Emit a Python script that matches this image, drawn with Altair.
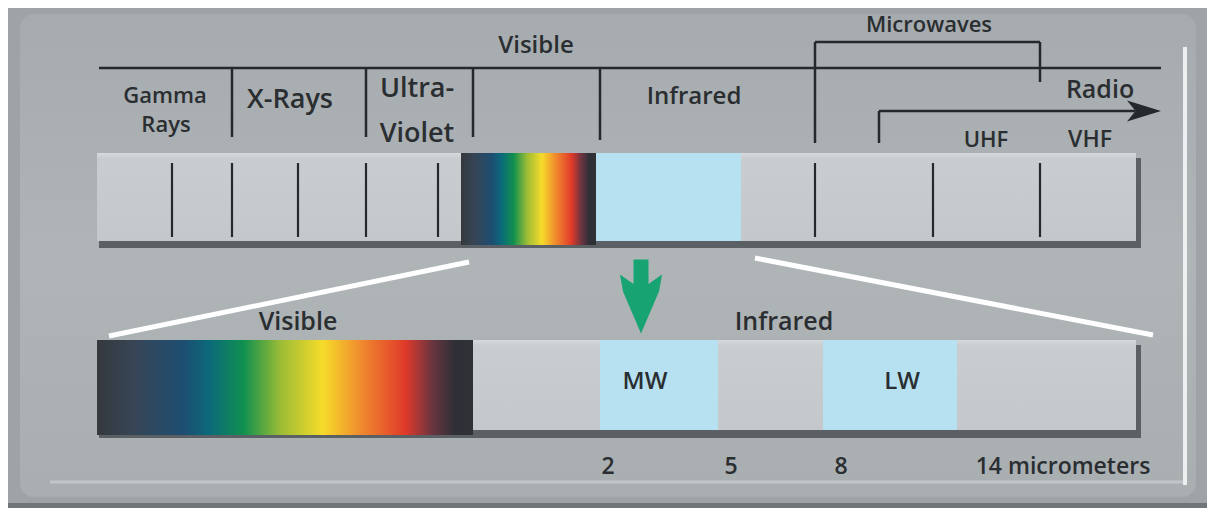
import altair as alt
import pandas as pd

# ---- diagram coordinate system (reference pixel units) ----
X_DOMAIN = [8, 1207]
Y_DOMAIN = [8, 508]
xs = alt.Scale(domain=X_DOMAIN, nice=False, zero=False)
ys = alt.Scale(domain=Y_DOMAIN, nice=False, zero=False, reverse=True)

# ---- data ----
panel_x1 = [8, 8]
panel_x2 = [1207, 1207]
panel_y1 = [8, 503]
panel_y2 = [508, 508]
panel_fill = ["#9ea3a7", "#70757a"]

inner_x1, inner_x2, inner_y1, inner_y2 = [20], [1196], [14], [497]

shadow_x1 = [99, 99]
shadow_x2 = [1141, 1141]
shadow_y1 = [158, 345]
shadow_y2 = [248, 438]

gray_x1 = [97, 97]
gray_x2 = [1136, 1136]
gray_y1 = [153, 340]
gray_y2 = [241, 430]

blue_x1 = [596, 600, 823]
blue_x2 = [741, 718, 957]
blue_y1 = [153, 340, 340]
blue_y2 = [241, 430, 430]

spec_x1 = [461, 97]
spec_x2 = [596, 473]
spec_y1 = [153, 340]
spec_y2 = [245, 435]

spectrum_offsets = [0.0, 0.10, 0.23, 0.30, 0.39, 0.49, 0.60, 0.70, 0.82, 0.89, 0.95, 1.0]
spectrum_colors = ["#34393d", "#374556", "#1d4e72", "#0b6a7a", "#10904f", "#9dbd35",
                   "#f6db2a", "#f08c2e", "#e0392a", "#6d3540", "#2f3037", "#2f3135"]

tick_x = [172, 232, 298, 366, 438, 815, 933, 1040]
tick_y1 = 163
tick_y2 = 237

line_x1 = [99, 232, 366, 473, 600, 815, 815, 1040, 879, 879]
line_y1 = [68, 68, 68, 68, 68, 42, 42, 42, 111, 111]
line_x2 = [1161, 232, 366, 473, 600, 1040, 815, 1040, 1135, 879]
line_y2 = [68, 137, 137, 137, 140, 42, 143, 82, 111, 143]

zoom_x1 = [109, 755]
zoom_y1 = [336, 258]
zoom_x2 = [469, 1153]
zoom_y2 = [262, 335]

hl_x1 = [1185]
hl_y1 = [47]
hl_x2 = [1185]
hl_y2 = [485]
base_x1, base_y1, base_x2, base_y2 = [50], [482], [1183], [482]

labels = ["Visible", "Gamma", "Rays", "X-Rays", "Ultra-", "Violet", "Infrared",
          "Microwaves", "Radio", "UHF", "VHF",
          "Visible", "Infrared", "MW", "LW", "2", "5", "8", "14 micrometers"]
label_x = [536, 165, 166, 290, 417, 417, 694,
           929, 1100, 986, 1090,
           298, 784, 645, 902, 608, 731, 841, 1063]
label_y = [46, 96, 125, 100, 89, 134, 97,
           25, 90, 140, 140,
           322, 322, 382, 382, 467, 467, 467, 467]
label_size = [24, 22, 22, 27, 27, 27, 24,
              22, 25, 22, 23,
              25, 25, 24, 24, 23, 23, 23, 23]

green_arrow = {"x": [641], "y": [297]}
radio_head = {"x": [1144], "y": [111]}

# ---- layers ----
def rect_layer(x1, x2, y1, y2, **mark):
    df = pd.DataFrame({"x1": x1, "x2": x2, "y1": y1, "y2": y2})
    return alt.Chart(df).mark_rect(**mark).encode(
        x=alt.X("x1:Q", scale=xs, axis=None), x2="x2:Q",
        y=alt.Y("y1:Q", scale=ys, axis=None), y2="y2:Q")

def rule_layer(x1, y1, x2, y2, **mark):
    df = pd.DataFrame({"x1": x1, "x2": x2, "y1": y1, "y2": y2})
    return alt.Chart(df).mark_rule(**mark).encode(
        x=alt.X("x1:Q", scale=xs, axis=None), x2="x2:Q",
        y=alt.Y("y1:Q", scale=ys, axis=None), y2="y2:Q")

panel_df = pd.DataFrame({"x1": panel_x1, "x2": panel_x2, "y1": panel_y1,
                         "y2": panel_y2, "fill": panel_fill})
panel = alt.Chart(panel_df).mark_rect().encode(
    x=alt.X("x1:Q", scale=xs, axis=None), x2="x2:Q",
    y=alt.Y("y1:Q", scale=ys, axis=None), y2="y2:Q",
    color=alt.Color("fill:N", scale=None))

inner = rect_layer(inner_x1, inner_x2, inner_y1, inner_y2, cornerRadius=14,
                   fill={"gradient": "linear", "x1": 0, "y1": 0, "x2": 0, "y2": 1,
                         "stops": [{"offset": 0, "color": "#a6abaf"},
                                   {"offset": 0.5, "color": "#afb4b7"},
                                   {"offset": 1, "color": "#a9aeb1"}]})

shadows = rect_layer(shadow_x1, shadow_x2, shadow_y1, shadow_y2, color="#5b6064")
grays = rect_layer(gray_x1, gray_x2, gray_y1, gray_y2,
                   fill={"gradient": "linear", "x1": 0, "y1": 0, "x2": 0, "y2": 1,
                         "stops": [{"offset": 0, "color": "#d6dadc"},
                                   {"offset": 0.06, "color": "#c9cdd0"},
                                   {"offset": 1, "color": "#c4c8cb"}]})
blues = rect_layer(blue_x1, blue_x2, blue_y1, blue_y2, color="#b7e0f1")
spectra = rect_layer(spec_x1, spec_x2, spec_y1, spec_y2,
                     fill={"gradient": "linear", "x1": 0, "y1": 0, "x2": 1, "y2": 0,
                           "stops": [{"offset": o, "color": c}
                                     for o, c in zip(spectrum_offsets, spectrum_colors)]})

ticks = rule_layer(tick_x, [tick_y1] * len(tick_x), tick_x, [tick_y2] * len(tick_x),
                   color="#25292c", strokeWidth=2.2)
lines = rule_layer(line_x1, line_y1, line_x2, line_y2, color="#25292c", strokeWidth=2.5)
zooms = rule_layer(zoom_x1, zoom_y1, zoom_x2, zoom_y2, color="#ffffff", strokeWidth=5)
highlights = rule_layer(hl_x1, hl_y1, hl_x2, hl_y2, color="#ffffff", strokeWidth=4, opacity=0.8)
baseline_hl = rule_layer(base_x1, base_y1, base_x2, base_y2, color="#ffffff", strokeWidth=3, opacity=0.3)

arrow_path = ("M-0.2,-1 L0.2,-1 L0.2,-0.35 L0.56,-0.6 L0.48,-0.15 L0,0.97 "
              "L-0.48,-0.15 L-0.56,-0.6 L-0.2,-0.35 Z")
garrow = alt.Chart(pd.DataFrame(green_arrow)).mark_point(
    shape=arrow_path, size=5625, filled=True, color="#17a372", opacity=1, strokeWidth=0
).encode(x=alt.X("x:Q", scale=xs, axis=None), y=alt.Y("y:Q", scale=ys, axis=None))

head_path = "M-1,-0.62 L1,0 L-1,0.62 L-0.5,0 Z"
rhead = alt.Chart(pd.DataFrame(radio_head)).mark_point(
    shape=head_path, size=1156, filled=True, color="#25292c", opacity=1, strokeWidth=0
).encode(x=alt.X("x:Q", scale=xs, axis=None), y=alt.Y("y:Q", scale=ys, axis=None))

text_df = pd.DataFrame({"label": labels, "x": label_x, "y": label_y, "size": label_size})
texts = alt.Chart(text_df).mark_text(
    font="Open Sans", fontWeight=600, align="center", baseline="middle", color="#2a2e31"
).encode(
    x=alt.X("x:Q", scale=xs, axis=None), y=alt.Y("y:Q", scale=ys, axis=None),
    text="label:N", size=alt.Size("size:Q", scale=None))

chart = alt.layer(
    panel, inner, baseline_hl, highlights, shadows, grays, blues, spectra, ticks, lines,
    rhead, zooms, garrow, texts
).properties(
    width=1199, height=500,
    autosize=alt.AutoSizeParams(type="fit", contains="padding"),
    padding=0, background="#ffffff"
).configure_view(stroke=None)

chart.save("out.html", embed_options={"renderer": "svg", "actions": False})
